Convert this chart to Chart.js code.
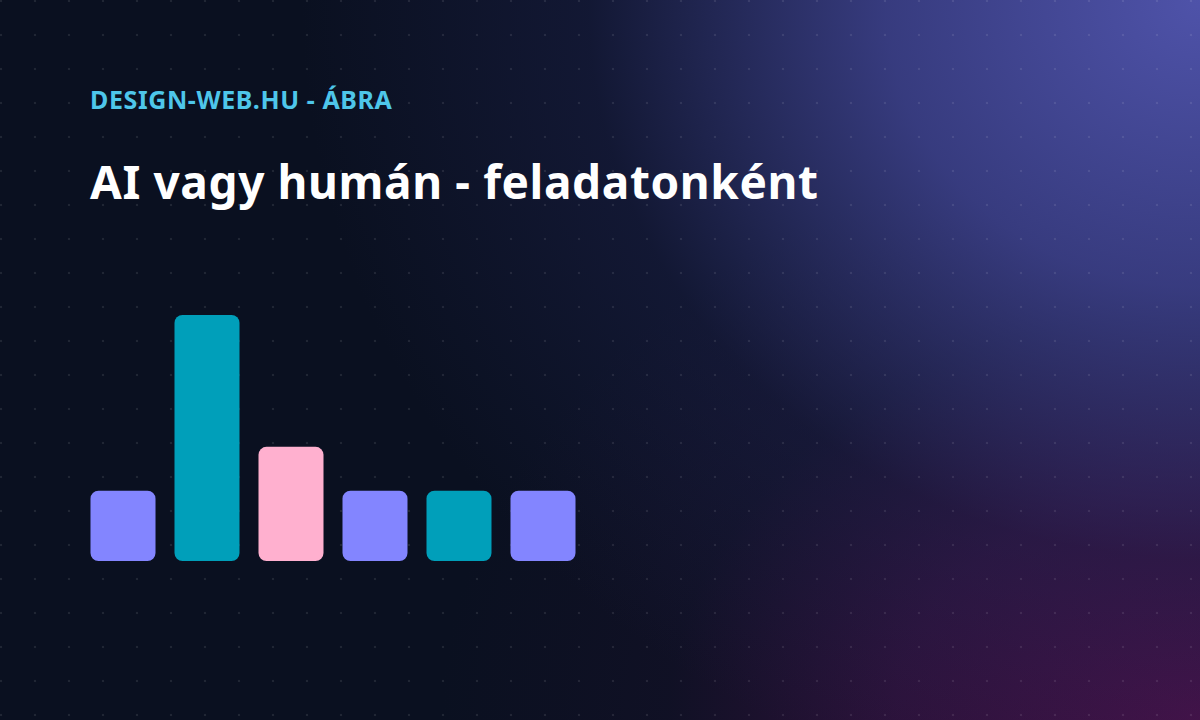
<!DOCTYPE html>
<html>
<head>
<meta charset="utf-8">
<script src="https://cdn.jsdelivr.net/npm/chart.js@4/dist/chart.umd.min.js"></script>
<style>
  html, body { margin: 0; padding: 0; }
  body {
    width: 1200px; height: 720px; overflow: hidden; position: relative;
    background-color: #0a1020;
    background-image:
      radial-gradient(ellipse 900px 820px at 100% 0%, rgba(80,84,172,0.98) 0%, rgba(66,70,150,0.8) 35%, rgba(34,38,88,0.35) 68%, rgba(10,16,32,0) 100%),
      radial-gradient(ellipse 760px 580px at 100% 100%, rgba(70,16,70,1) 0%, rgba(56,18,66,0.75) 40%, rgba(30,18,48,0.3) 70%, rgba(10,16,32,0) 100%);
    font-family: "Noto Sans", "Open Sans", sans-serif;
  }
  .dots {
    position: absolute; inset: 0;
    background-image: radial-gradient(circle, rgba(255,255,255,0.09) 1px, rgba(255,255,255,0) 1.6px);
    background-size: 34px 34px;
    background-position: -16px -16px;
  }
  .kicker {
    position: absolute; left: 90px; top: 87px; margin: 0;
    font-size: 25px; line-height: 1; font-weight: 700; color: #4ec6ea;
    letter-spacing: 0.6px;
  }
  h1 {
    position: absolute; left: 90px; top: 158px; margin: 0;
    font-size: 46px; line-height: 1; font-weight: 700; color: #ffffff;
    letter-spacing: 0.6px;
  }
  .chart-box {
    position: absolute; left: 80.5px; top: 315px; width: 504px; height: 246px;
  }
</style>
</head>
<body>
<div class="dots"></div>
<p class="kicker">DESIGN-WEB.HU - ÁBRA</p>
<h1>AI vagy humán - feladatonként</h1>
<div class="chart-box"><canvas id="chart"></canvas></div>
<script>
const tasks = ["Feladat 1", "Feladat 2", "Feladat 3", "Feladat 4", "Feladat 5", "Feladat 6"];
const values = [20, 70, 32.5, 20, 20, 20];
const barColors = ["#8385ff", "#009fba", "#ffb0cf", "#8385ff", "#009fba", "#8385ff"];

new Chart(document.getElementById("chart"), {
  type: "bar",
  data: {
    labels: tasks,
    datasets: [
      {
        data: values,
        backgroundColor: barColors,
        borderRadius: 8,
        borderSkipped: false,
        categoryPercentage: 1,
        barPercentage: 0.774,
      },
    ],
  },
  options: {
    responsive: true,
    maintainAspectRatio: false,
    animation: false,
    layout: { padding: 0 },
    plugins: {
      legend: { display: false },
      tooltip: { enabled: false },
    },
    scales: {
      x: { display: false },
      y: { display: false, min: 0, max: 70 },
    },
  },
});
</script>
</body>
</html>
